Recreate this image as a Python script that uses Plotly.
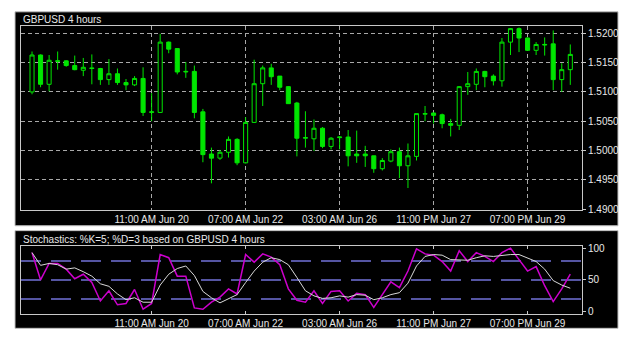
import plotly.graph_objects as go

# ---------------- data ----------------
opens = [1.5100, 1.5163, 1.5113, 1.5152, 1.5153, 1.5145, 1.5137, 1.5141, 1.5140, 1.5121,
         1.5131, 1.5116, 1.5112, 1.5123, 1.5065, 1.5065, 1.5185, 1.5174, 1.5134, 1.5135,
         1.5066, 1.4994, 1.4987, 1.4997, 1.5019, 1.4979, 1.5048, 1.5114, 1.5141, 1.5127,
         1.5109, 1.5081, 1.5021, 1.5020, 1.5038, 1.5007, 1.5022, 1.5023, 1.4994, 1.4994,
         1.4991, 1.4969, 1.4982, 1.4998, 1.4974, 1.4990, 1.5062, 1.5064, 1.5061, 1.5046,
         1.5043, 1.5109, 1.5113, 1.5135, 1.5127, 1.5119, 1.5185, 1.5208, 1.5192, 1.5171,
         1.5180, 1.5182, 1.5121, 1.5138]
highs = [1.5169, 1.5164, 1.5163, 1.5169, 1.5154, 1.5162, 1.5158, 1.5164, 1.5141, 1.5156,
         1.5140, 1.5122, 1.5127, 1.5142, 1.5098, 1.5199, 1.5186, 1.5174, 1.5151, 1.5145,
         1.5071, 1.5005, 1.5001, 1.5024, 1.5021, 1.5057, 1.5155, 1.5145, 1.5148, 1.5127,
         1.5110, 1.5083, 1.5067, 1.5053, 1.5040, 1.5023, 1.5024, 1.5035, 1.5034, 1.5008,
         1.4991, 1.4987, 1.5002, 1.5005, 1.5012, 1.5063, 1.5076, 1.5065, 1.5063, 1.5054,
         1.5110, 1.5134, 1.5140, 1.5136, 1.5130, 1.5192, 1.5209, 1.5210, 1.5193, 1.5185,
         1.5193, 1.5205, 1.5149, 1.5181]
lows = [1.5096, 1.5108, 1.5101, 1.5138, 1.5143, 1.5137, 1.5127, 1.5113, 1.5112, 1.5112,
        1.5112, 1.5103, 1.5110, 1.5059, 1.5050, 1.5064, 1.5166, 1.5130, 1.5124, 1.5055,
        1.4980, 1.4944, 1.4984, 1.4988, 1.4975, 1.4978, 1.5047, 1.5076, 1.5112, 1.5103,
        1.5080, 1.4990, 1.5005, 1.4999, 1.5004, 1.5002, 1.5002, 1.4973, 1.4979, 1.4972,
        1.4962, 1.4966, 1.4980, 1.4953, 1.4936, 1.4983, 1.5050, 1.5046, 1.5038, 1.5024,
        1.5035, 1.5095, 1.5103, 1.5108, 1.5111, 1.5109, 1.5163, 1.5168, 1.5170, 1.5163,
        1.5162, 1.5103, 1.5100, 1.5112]
closes = [1.5163, 1.5113, 1.5154, 1.5153, 1.5145, 1.5138, 1.5142, 1.5140, 1.5121, 1.5131,
          1.5116, 1.5112, 1.5123, 1.5065, 1.5066, 1.5185, 1.5173, 1.5134, 1.5135, 1.5065,
          1.4993, 1.4987, 1.4997, 1.5019, 1.4979, 1.5048, 1.5114, 1.5141, 1.5126, 1.5108,
          1.5080, 1.5021, 1.5022, 1.5038, 1.5007, 1.5021, 1.5023, 1.4991, 1.4991, 1.4991,
          1.4969, 1.4983, 1.4998, 1.4974, 1.4991, 1.5063, 1.5063, 1.5060, 1.5046, 1.5043,
          1.5109, 1.5114, 1.5135, 1.5126, 1.5119, 1.5185, 1.5208, 1.5192, 1.5171, 1.5181,
          1.5181, 1.5121, 1.5138, 1.5164]

stoch_k = [93, 50, 76, 76, 67, 52, 59, 46, 17, 33, 11, 13, 35, 4, 13, 90, 85, 56, 56, 6,
           4, 15, 23, 36, 28, 90, 78, 91, 86, 74, 36, 18, 15, 33, 13, 32, 33, 17, 29, 27,
           7, 28, 47, 38, 64, 99, 91, 89, 79, 64, 96, 79, 93, 87, 79, 93, 100, 82, 64, 71,
           41, 16, 36, 59]
stoch_d = [93, 73, 76, 74, 67, 69, 63, 56, 44, 40, 28, 19, 22, 15, 15, 42, 59, 68, 72, 57,
           32, 22, 14, 21, 27, 46, 64, 78, 85, 82, 74, 54, 33, 25, 21, 22, 25, 23, 27, 26,
           19, 22, 27, 30, 45, 72, 87, 90, 89, 82, 81, 81, 85, 88, 87, 89, 90, 90, 85, 79,
           67, 49, 42, 37]

time_tick_idx = [14, 25, 36, 47, 58]
time_tick_labels = ["11:00 AM Jun 20", "07:00 AM Jun 22", "03:00 AM Jun 26",
                    "11:00 PM Jun 27", "07:00 PM Jun 29"]
price_ticks = [1.4900, 1.4950, 1.5000, 1.5050, 1.5100, 1.5150, 1.5200]
stoch_ticks = [0, 50, 100]
stoch_levels = [20, 50, 80]

idx = list(range(len(closes)))

# ---------------- style ----------------
W, H = 629, 346
GREEN = "#00e600"
FRAME = "#c8c8c8"
GRID = "#a8a8a8"
TXT = "#e8e8e8"
FONT = "Liberation Sans, Arial, sans-serif"

def px(v):
    return v / W

def py(v):
    return 1 - v / H

xdom = [px(21), px(582)]
xrange = [-1.29, 64.37]

fig = go.Figure()
fig.add_trace(go.Candlestick(
    x=idx, open=opens, high=highs, low=lows, close=closes,
    increasing=dict(line=dict(color=GREEN, width=1), fillcolor="black"),
    decreasing=dict(line=dict(color=GREEN, width=1), fillcolor=GREEN),
    whiskerwidth=0, xaxis="x", yaxis="y", showlegend=False, hoverinfo="skip"))
fig.add_trace(go.Scatter(x=idx, y=stoch_k, mode="lines",
                         line=dict(color="#cc00cc", width=1.5),
                         xaxis="x2", yaxis="y2", showlegend=False, hoverinfo="skip"))
fig.add_trace(go.Scatter(x=idx, y=stoch_d, mode="lines",
                         line=dict(color="#d8d8d8", width=1),
                         xaxis="x2", yaxis="y2", showlegend=False, hoverinfo="skip"))

shapes = [
    dict(type="rect", xref="paper", yref="paper", x0=px(15), x1=px(618), y0=py(227), y1=py(8),
         fillcolor="black", line=dict(color="#c0c0c0", width=1), layer="below"),
    dict(type="rect", xref="paper", yref="paper", x0=px(15), x1=px(618), y0=py(332), y1=py(232),
         fillcolor="black", line=dict(color="#c0c0c0", width=1), layer="below"),
]
for lv in stoch_levels:
    shapes.append(dict(type="line", xref="x2 domain", yref="y2", x0=0, x1=1, y0=lv, y1=lv,
                       line=dict(color="#7272d8", width=1.5, dash="20px,10px"), layer="below"))

fig.update_layout(
    width=W, height=H, margin=dict(l=0, r=0, t=0, b=0),
    paper_bgcolor="white", plot_bgcolor="black",
    font=dict(family=FONT, size=10, color=TXT),
    showlegend=False, shapes=shapes,
    boxgap=0.32,
    xaxis=dict(domain=xdom, range=xrange, anchor="y", tickmode="array",
               tickvals=time_tick_idx, ticktext=time_tick_labels,
               showgrid=True, gridcolor=GRID, griddash="4px,3px", gridwidth=1,
               showline=True, linecolor=FRAME, linewidth=1, mirror=True,
               ticks="", zeroline=False, rangeslider=dict(visible=False),
               tickfont=dict(color=TXT, size=10)),
    yaxis=dict(domain=[py(211), py(23)], range=[1.48983, 1.52117], anchor="x",
               side="right", tickmode="array", tickvals=price_ticks, tickformat=".4f",
               showgrid=True, gridcolor=GRID, griddash="4px,3px", gridwidth=1,
               showline=True, linecolor=FRAME, linewidth=1, mirror=True,
               ticks="outside", ticklen=3, tickcolor=FRAME, zeroline=False,
               tickfont=dict(color=TXT, size=10)),
    xaxis2=dict(domain=xdom, range=xrange, anchor="y2", tickmode="array",
                tickvals=time_tick_idx, ticktext=time_tick_labels,
                showgrid=False, showline=True, linecolor=FRAME, linewidth=1, mirror="ticks",
                ticks="inside", ticklen=3, tickcolor=FRAME, zeroline=False,
                tickfont=dict(color=TXT, size=10)),
    yaxis2=dict(domain=[py(317), py(248)], range=[-3, 103], anchor="x2",
                side="right", tickmode="array", tickvals=stoch_ticks,
                showgrid=False, showline=True, linecolor=FRAME, linewidth=1, mirror=True,
                ticks="outside", ticklen=3, tickcolor=FRAME, zeroline=False,
                tickfont=dict(color=TXT, size=10)),
    annotations=[
        dict(text="GBPUSD 4 hours", xref="paper", yref="paper", x=px(21), y=py(16),
             xanchor="left", yanchor="middle", showarrow=False,
             font=dict(color=TXT, size=10, family=FONT)),
        dict(text="Stochastics: %K=5; %D=3 based on GBPUSD 4 hours", xref="paper", yref="paper",
             x=px(21), y=py(241), xanchor="left", yanchor="middle", showarrow=False,
             font=dict(color=TXT, size=10, family=FONT)),
    ],
)

fig.write_html("out.html")
